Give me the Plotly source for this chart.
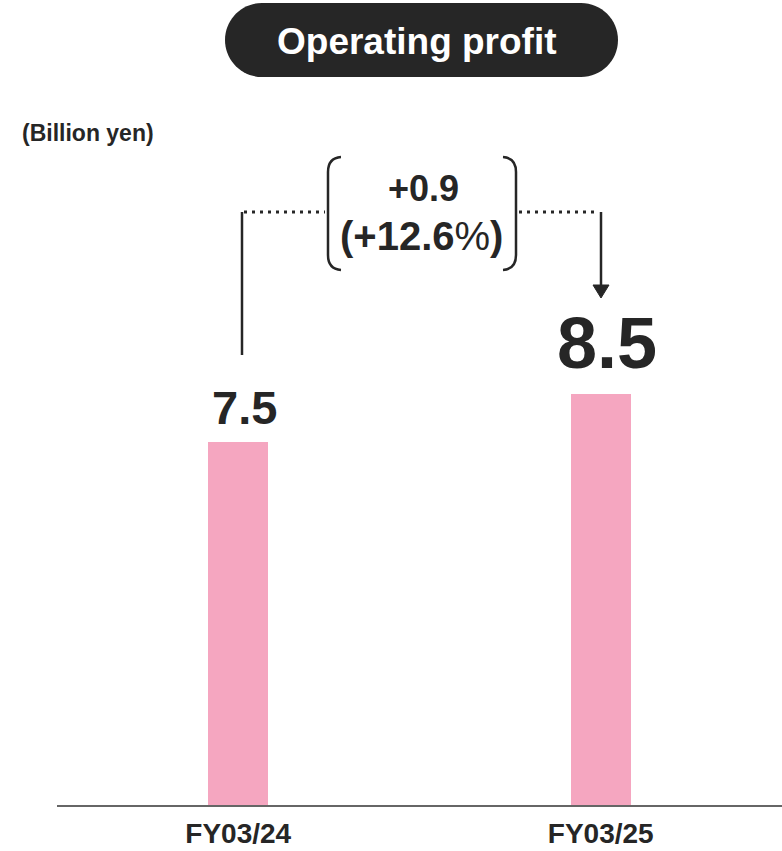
import plotly.graph_objects as go

# Operating profit, billion yen
categories = ["FY03/24", "FY03/25"]
values = [7.5, 8.5]
change_abs = "+0.9"
change_pct = "+12.6"

FONT = "Liberation Sans"
DARK = "#262626"
PINK = "#F5A6C0"

W, H = 782, 851
ML, MR, MT, MB = 57, 0, 0, 46
PLOT_W = W - ML - MR
PLOT_H = H - MT - MB
Y_MAX = 16.63


def px_x(px):
    """Page pixel x -> category axis coordinate."""
    return (px - ML) / PLOT_W * 2 - 0.5


def px_y(py):
    """Page pixel y -> value axis coordinate."""
    return (MT + PLOT_H - py) / PLOT_H * Y_MAX


def paper_x(px):
    return (px - ML) / PLOT_W


def paper_y(py):
    return (MT + PLOT_H - py) / PLOT_H


fig = go.Figure(
    go.Bar(
        x=[0, 1],
        y=values,
        width=0.166,
        marker=dict(color=PINK, line=dict(width=0)),
        hoverinfo="skip",
    )
)

shapes = []
line_style = dict(color=DARK, width=2.5)

# connector: left riser, dotted span, down arrow
shapes.append(dict(type="line", xref="x", yref="y",
                   x0=px_x(242), x1=px_x(242), y0=px_y(212), y1=px_y(355),
                   line=line_style))
shapes.append(dict(type="line", xref="x", yref="y",
                   x0=px_x(244), x1=px_x(325), y0=px_y(212), y1=px_y(212),
                   line=dict(color=DARK, width=3, dash="3px,5px")))
shapes.append(dict(type="line", xref="x", yref="y",
                   x0=px_x(519), x1=px_x(598), y0=px_y(212), y1=px_y(212),
                   line=dict(color=DARK, width=3, dash="3px,5px")))
shapes.append(dict(type="line", xref="x", yref="y",
                   x0=px_x(601), x1=px_x(601), y0=px_y(212), y1=px_y(287),
                   line=line_style))
shapes.append(dict(type="path", xref="x", yref="y",
                   path=(f"M {px_x(593)},{px_y(285)} L {px_x(609)},{px_y(285)} "
                         f"L {px_x(601)},{px_y(298)} Z"),
                   fillcolor=DARK, line=dict(color=DARK, width=1)))

# parentheses around the change label
shapes.append(dict(type="path", xref="x", yref="y",
                   path=(f"M {px_x(341)},{px_y(157)} "
                         f"Q {px_x(328)},{px_y(158)} {px_x(328)},{px_y(172)} "
                         f"L {px_x(328)},{px_y(255)} "
                         f"Q {px_x(328)},{px_y(269)} {px_x(341)},{px_y(270)}"),
                   line=dict(color=DARK, width=2.5)))
shapes.append(dict(type="path", xref="x", yref="y",
                   path=(f"M {px_x(503)},{px_y(157)} "
                         f"Q {px_x(516)},{px_y(158)} {px_x(516)},{px_y(172)} "
                         f"L {px_x(516)},{px_y(255)} "
                         f"Q {px_x(516)},{px_y(269)} {px_x(503)},{px_y(270)}"),
                   line=dict(color=DARK, width=2.5)))

# title pill (pixel-sized, rounded ends)
hw, hh = 196.5, 37.0
r = hh
k = 0.5523 * r
sx = hw - r
pill = (f"M {-sx},{hh} L {sx},{hh} "
        f"C {sx + k},{hh} {hw},{k} {hw},0 "
        f"C {hw},{-k} {sx + k},{-hh} {sx},{-hh} "
        f"L {-sx},{-hh} "
        f"C {-sx - k},{-hh} {-hw},{-k} {-hw},0 "
        f"C {-hw},{k} {-sx - k},{hh} {-sx},{hh} Z")
shapes.append(dict(type="path", xref="paper", yref="paper",
                   xsizemode="pixel", ysizemode="pixel",
                   xanchor=paper_x(421.5), yanchor=paper_y(40),
                   path=pill, fillcolor=DARK, line=dict(width=0), layer="above"))

annotations = [
    dict(text="<b>Operating profit</b>", xref="paper", yref="paper",
         x=paper_x(417), y=paper_y(41), xanchor="center", yanchor="middle",
         showarrow=False, font=dict(family=FONT, size=37, color="white")),
    dict(text="<b>(Billion yen)</b>", xref="paper", yref="paper",
         x=paper_x(20), y=paper_y(133), xanchor="left", yanchor="middle",
         showarrow=False, font=dict(family=FONT, size=23, color=DARK)),
    dict(text=f"<b>{change_abs}</b>", xref="x", yref="y",
         x=px_x(423), y=px_y(188), xanchor="center", yanchor="middle",
         showarrow=False, font=dict(family=FONT, size=36, color=DARK)),
    dict(text=f"<b>({change_pct}</b>%<b>)</b>", xref="x", yref="y",
         x=px_x(421), y=px_y(236), xanchor="center", yanchor="middle",
         showarrow=False, font=dict(family=FONT, size=40, color=DARK)),
]

label_sizes = [47, 72]
label_shift = [34, 51]
for i, v in enumerate(values):
    annotations.append(dict(
        text=f"<b>{v:.1f}</b>", xref="x", yref="y", x=i, y=v,
        xanchor="center", yanchor="middle", xshift=6, yshift=label_shift[i],
        showarrow=False, font=dict(family=FONT, size=label_sizes[i], color=DARK)))

fig.update_layout(
    width=W, height=H,
    margin=dict(l=ML, r=MR, t=MT, b=MB),
    paper_bgcolor="white", plot_bgcolor="white",
    showlegend=False,
    shapes=shapes,
    annotations=annotations,
    xaxis=dict(
        range=[-0.5, 1.5], tickmode="array", tickvals=[0, 1],
        ticktext=[f"<b>{c}</b>" for c in categories],
        showline=True, linecolor="#666666", linewidth=2,
        showgrid=False, zeroline=False, ticks="",
        tickfont=dict(family=FONT, size=28, color=DARK),
        ticklabelstandoff=2,
        fixedrange=True,
    ),
    yaxis=dict(range=[0, Y_MAX], visible=False, fixedrange=True),
    bargap=0,
)

fig.write_html("out.html")
